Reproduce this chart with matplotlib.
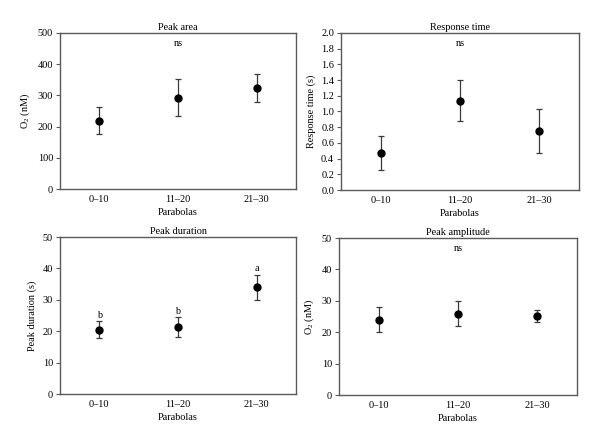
import matplotlib
matplotlib.use("Agg")
import matplotlib.pyplot as plt

plt.rcParams["font.family"] = ["Liberation Serif", "DejaVu Serif"]
plt.rcParams["mathtext.fontset"] = "custom"
plt.rcParams["mathtext.rm"] = "Liberation Serif"

groups = ["0\u201310", "11\u201320", "21\u201330"]

area_mean = [219, 293, 323]
area_low = [176, 234, 278]
area_high = [264, 352, 369]

resp_mean = [0.47, 1.13, 0.75]
resp_low = [0.25, 0.88, 0.47]
resp_high = [0.69, 1.40, 1.03]

dur_mean = [20.4, 21.4, 34.0]
dur_low = [17.8, 18.3, 29.9]
dur_high = [23.2, 24.4, 38.0]
dur_letters = ["b", "b", "a"]

amp_mean = [23.9, 25.8, 25.2]
amp_low = [20.0, 21.9, 23.2]
amp_high = [27.9, 30.0, 27.2]

SPINE = "#5a5a5a"
FS = 7.4

fig = plt.figure(figsize=(6.0, 4.44), dpi=100)
W, H = 600, 444
# left, top, right, bottom in pixels
boxes = [
    (60, 33, 296, 189),
    (341, 33, 579, 190),
    (60, 237, 296, 394),
    (339, 238, 577, 395),
]

panels = [
    ("Peak area", "O$_2$ (nM)", area_mean, area_low, area_high, (0, 500), range(0, 501, 100), "{:.0f}", None),
    ("Response time", "Response time (s)", resp_mean, resp_low, resp_high, (0, 2.0),
     [i / 10 for i in range(0, 21, 2)], "{:.1f}", None),
    ("Peak duration", "Peak duration (s)", dur_mean, dur_low, dur_high, (0, 50), range(0, 51, 10), "{:.0f}", dur_letters),
    ("Peak amplitude", "O$_2$ (nM)", amp_mean, amp_low, amp_high, (0, 50), range(0, 51, 10), "{:.0f}", None),
]

for (l, t, r, b), (title, ylab, mean, low, high, ylim, yt, fmt, letters) in zip(boxes, panels):
    ax = fig.add_axes([l / W, 1 - b / H, (r - l) / W, (b - t) / H])
    x = [1, 2, 3]
    yerr = [[m - lo for m, lo in zip(mean, low)], [hi - m for m, hi in zip(mean, high)]]
    ax.errorbar(x, mean, yerr=yerr, fmt="o", color="black", ecolor="#3a3a3a",
                elinewidth=0.9, capsize=2.5, capthick=0.9, markersize=5)
    ax.set_xlim(0.5, 3.5)
    ax.set_ylim(*ylim)
    ax.set_yticks(list(yt))
    ax.set_yticklabels([fmt.format(v) for v in yt])
    ax.set_xticks(x)
    ax.set_xticklabels(groups)
    ax.tick_params(axis="x", length=0, labelsize=FS, pad=4)
    ax.tick_params(axis="y", length=3, width=0.8, color=SPINE, labelsize=FS, pad=2, direction="out")
    for s in ax.spines.values():
        s.set_color(SPINE)
        s.set_linewidth(1.0)
    ax.set_title(title, fontsize=FS, pad=2.5)
    ax.set_xlabel("Parabolas", fontsize=FS, labelpad=3)
    ax.set_ylabel(ylab, fontsize=FS, labelpad=4)
    if letters is None:
        ax.text(0.5, 0.93, "ns", transform=ax.transAxes, ha="center", va="center", fontsize=FS)
    else:
        span = ylim[1] - ylim[0]
        for xi, hi, lt in zip(x, high, letters):
            ax.text(xi, hi + 0.01 * span, lt, ha="center", va="bottom", fontsize=FS)

fig.savefig("out.png", dpi=100, facecolor="white")
